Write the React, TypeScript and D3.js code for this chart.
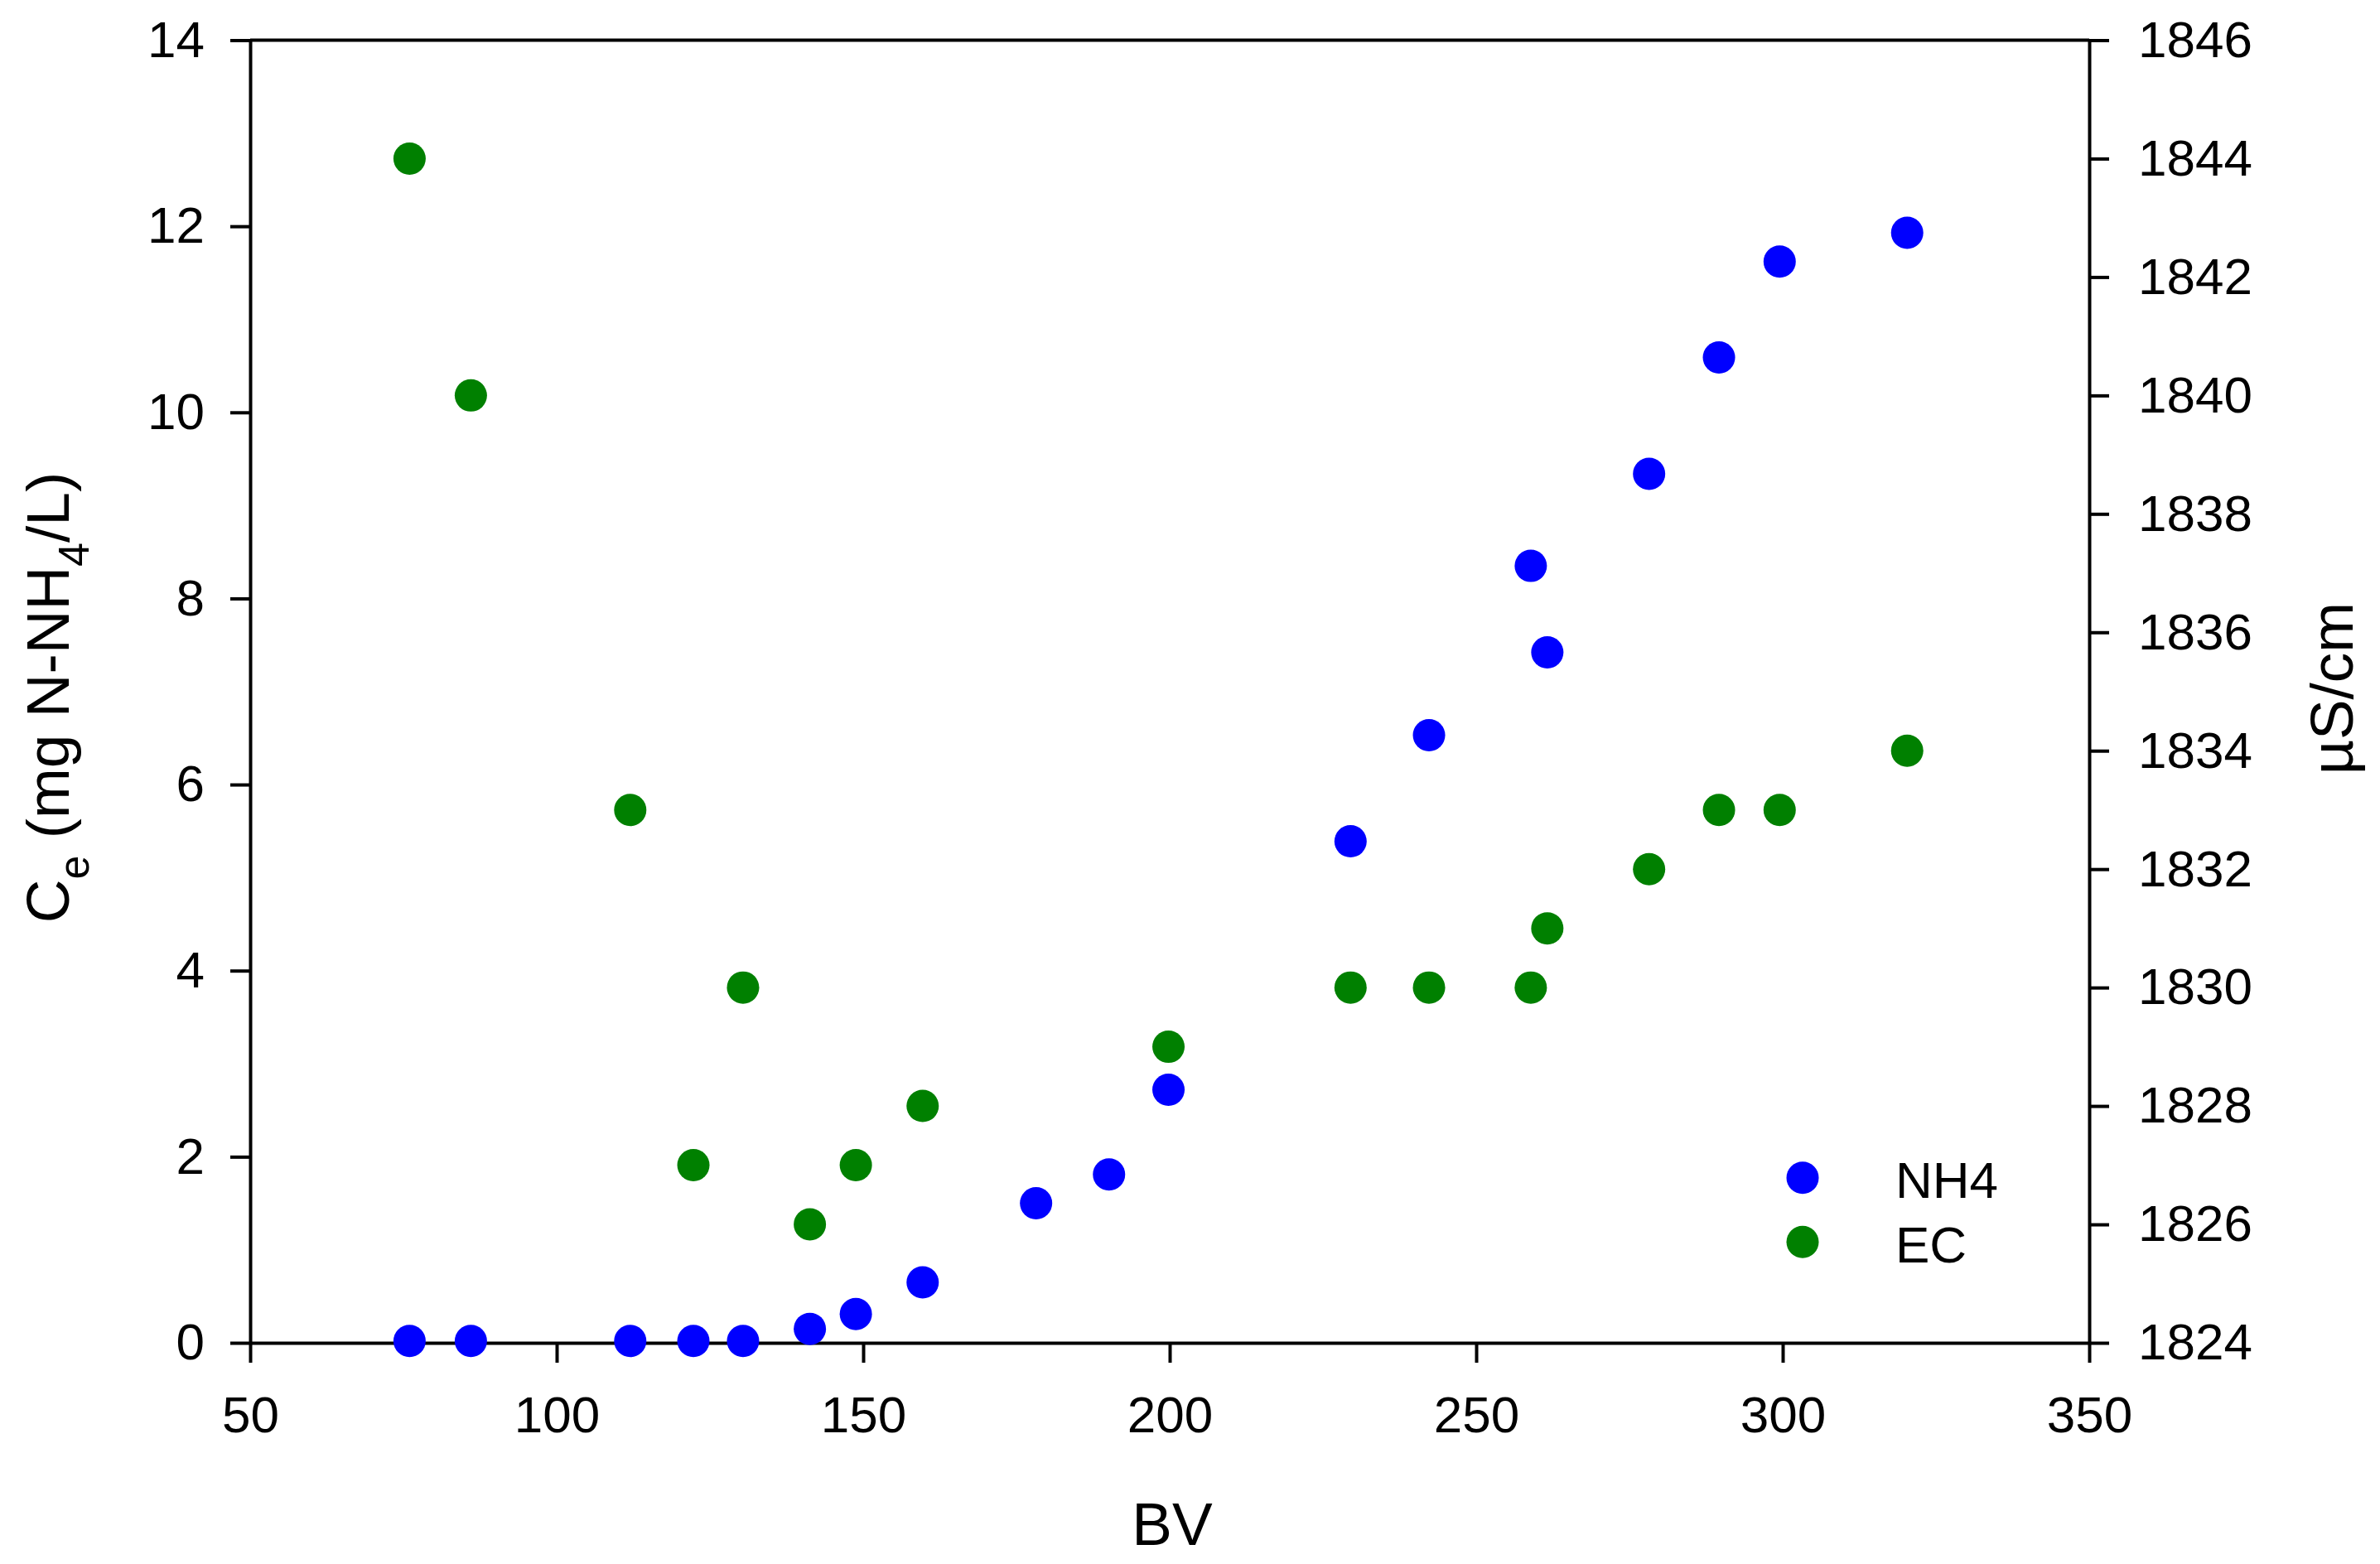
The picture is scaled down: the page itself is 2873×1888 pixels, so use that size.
import { useEffect, useRef } from "react";
import * as d3 from "d3";

// BV values (shared x)
const bvNH4 = [76, 86, 112, 122.3, 130.4, 141.3, 148.8, 159.7, 178.2, 190.1, 199.8, 229.5, 242.3, 258.9, 261.6, 278.2, 289.6, 299.5, 320.3];
const nh4 = [0.02, 0.02, 0.02, 0.02, 0.02, 0.15, 0.31, 0.65, 1.5, 1.81, 2.72, 5.39, 6.53, 8.35, 7.42, 9.34, 10.59, 11.62, 11.93];

const bvEC = [76, 86, 112, 122.3, 130.4, 141.3, 148.8, 159.7, 199.8, 229.5, 242.3, 258.9, 261.6, 278.2, 289.6, 299.5, 320.3];
const ec = [1844, 1840, 1833, 1827, 1830, 1826, 1827, 1828, 1829, 1830, 1830, 1830, 1831, 1832, 1833, 1833, 1834];

const xTicks = [50, 100, 150, 200, 250, 300, 350];
const leftTicks = [0, 2, 4, 6, 8, 10, 12, 14];
const rightTicks = [1824, 1826, 1828, 1830, 1832, 1834, 1836, 1838, 1840, 1842, 1844, 1846];

const seriesNames = ["NH4", "EC"];
const seriesColors = ["#0000ff", "#008000"];

const WIDTH = 2873;
const HEIGHT = 1888;
const FONT = "'Liberation Sans', Arial, sans-serif";

function DualAxisScatter() {
  const svgRef = useRef(null);

  useEffect(() => {
    const svg = d3.select(svgRef.current);
    svg.selectAll("*").remove();

    const margin = { top: 48.5, right: WIDTH - 2522, bottom: HEIGHT - 1621, left: 302 };
    const innerWidth = WIDTH - margin.left - margin.right;
    const innerHeight = HEIGHT - margin.top - margin.bottom;

    const xScale = d3.scaleLinear().domain([50, 350]).range([0, innerWidth]);
    const yLeft = d3.scaleLinear().domain([0, 14]).range([innerHeight, 0]);
    const yRight = d3.scaleLinear().domain([1824, 1846]).range([innerHeight, 0]);

    const g = svg.append("g").attr("transform", `translate(${margin.left},${margin.top})`);

    const styleAxis = (sel) => {
      sel.selectAll("path, line").attr("stroke", "#000").attr("stroke-width", 4);
      sel.selectAll("text").attr("font-size", 62).attr("font-family", FONT).attr("fill", "#000");
    };

    // frame top
    g.append("line")
      .attr("x1", 0).attr("x2", innerWidth)
      .attr("y1", 0).attr("y2", 0)
      .attr("stroke", "#000").attr("stroke-width", 4);

    g.append("g")
      .attr("transform", `translate(0,${innerHeight})`)
      .call(d3.axisBottom(xScale).tickValues(xTicks).tickFormat(d3.format("d")).tickSize(24).tickSizeOuter(0).tickPadding(40))
      .call(styleAxis);

    g.append("g")
      .call(d3.axisLeft(yLeft).tickValues(leftTicks).tickFormat(d3.format("d")).tickSize(24).tickSizeOuter(0).tickPadding(31))
      .call(styleAxis);

    g.append("g")
      .attr("transform", `translate(${innerWidth},0)`)
      .call(d3.axisRight(yRight).tickValues(rightTicks).tickFormat(d3.format("d")).tickSize(24).tickSizeOuter(0).tickPadding(35))
      .call(styleAxis);

    // points
    const nh4Data = bvNH4.map((x, i) => ({ x, y: nh4[i] }));
    const ecData = bvEC.map((x, i) => ({ x, y: ec[i] }));

    g.append("g")
      .selectAll("circle")
      .data(ecData)
      .enter()
      .append("circle")
      .attr("cx", (d) => xScale(d.x))
      .attr("cy", (d) => yRight(d.y))
      .attr("r", 19.5)
      .attr("fill", seriesColors[1]);

    g.append("g")
      .selectAll("circle")
      .data(nh4Data)
      .enter()
      .append("circle")
      .attr("cx", (d) => xScale(d.x))
      .attr("cy", (d) => yLeft(d.y))
      .attr("r", 19.5)
      .attr("fill", seriesColors[0]);

    // axis titles
    svg.append("text")
      .attr("x", 1415)
      .attr("y", 1865)
      .attr("text-anchor", "middle")
      .attr("font-size", 73)
      .attr("font-family", FONT)
      .text("BV");

    const leftTitle = svg.append("text")
      .attr("transform", "translate(83,842) rotate(-90)")
      .attr("text-anchor", "middle")
      .attr("font-size", 73)
      .attr("font-family", FONT);
    leftTitle.append("tspan").text("C");
    leftTitle.append("tspan").attr("font-size", 52).attr("dy", 24).text("e");
    leftTitle.append("tspan").attr("dy", -24).text(" (mg N-NH");
    leftTitle.append("tspan").attr("font-size", 52).attr("dy", 24).text("4");
    leftTitle.append("tspan").attr("dy", -24).text("/L)");

    svg.append("text")
      .attr("transform", "translate(2840,831) rotate(-90)")
      .attr("text-anchor", "middle")
      .attr("font-size", 73)
      .attr("font-family", FONT)
      .text("µS/cm");

    // legend
    const legend = svg.append("g");
    seriesNames.forEach((name, i) => {
      const row = legend.append("g").attr("transform", `translate(0, ${i * 77.5})`);
      row.append("circle").attr("cx", 2176).attr("cy", 1421.7).attr("r", 19.5).attr("fill", seriesColors[i]);
      row.append("text")
        .attr("x", 2288)
        .attr("y", 1446)
        .attr("font-size", 62)
        .attr("font-family", FONT)
        .text(name);
    });
  }, []);

  return (
    <svg
      ref={svgRef}
      width={WIDTH}
      height={HEIGHT}
      style={{ position: "absolute", left: 0, top: 0, background: "#fff" }}
    />
  );
}

export default function App() {
  return <DualAxisScatter />;
}
